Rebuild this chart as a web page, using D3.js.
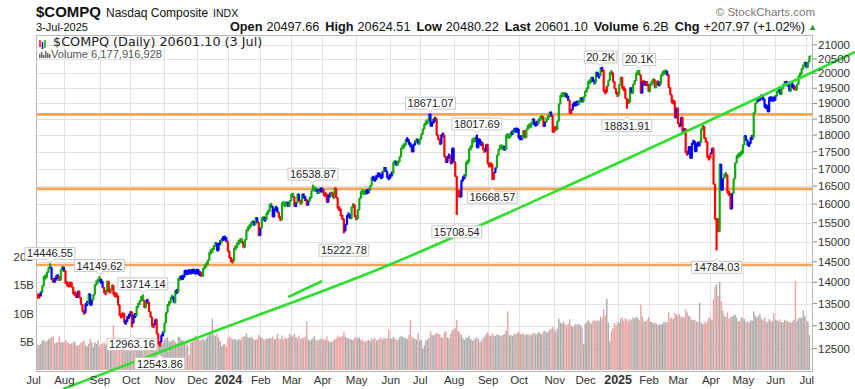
<!DOCTYPE html>
<html><head><meta charset="utf-8">
<script src="https://cdn.jsdelivr.net/npm/d3@7"></script>
<style>body{margin:0;background:#fff}svg{display:block}</style>
</head><body><svg id="c" width="855" height="389"></svg>
<script>
// ---------- DATA ----------
const monthLabels = ["Jul","Aug","Sep","Oct","Nov","Dec","2024","Feb","Mar","Apr","May","Jun","Jul","Aug","Sep","Oct","Nov","Dec","2025","Feb","Mar","Apr","May","Jun","Jul"];
const closeByMonth = [
[13817,13792,13679,13661,13686,13761,13919,14138,14114,14244,14354,14359,14063,14033,14059,14145,14127,14051,14317,14346],
[14283,13974,13960,13909,13994,13885,13723,13737,13645,13788,13632,13475,13317,13291,13498,13505,13722,13464,13590,13705,13943,14020,14035],
[14031,14021,13873,13749,13762,14021,13774,13814,13926,13708,13711,13679,13469,13224,13212,13271,13063,13093,13201,13219],
[13308,13059,13236,13220,13431,13485,13563,13660,13575,13407,13568,13534,13315,13187,12984,13019,13140,12821,12596,12643,12789,12851],
[13061,13294,13478,13519,13640,13650,13522,13798,13768,14094,14104,14114,14125,14284,14200,14266,14251,14241,14282,14258,14226],
[14306,14185,14230,14147,14340,14404,14432,14534,14734,14762,14814,14905,14964,14778,14964,14993,15075,15100,15096,15011],
[14765,14592,14510,14524,14843,14858,14970,15004,15055,15000,14856,15056,15311,15360,15426,15482,15511,15455,15628,15510,15164],
[15361,15629,15598,15582,15757,15794,15990,15942,15656,15859,15906,15776,15631,15581,16041,15996,15976,16035,15948,16092],
[16275,16208,15940,16032,16273,16085,16019,16266,16178,16129,15973,16103,16167,16369,16402,16429,16385,16316,16400,16379],
[16397,16240,16277,16050,16249,16253,16307,16170,16443,16175,15885,15865,15684,15601,15282,15451,15697,15713,15612,15928,15983,15658],
[15605,15841,16156,16349,16332,16302,16346,16341,16389,16512,16743,16698,16686,16795,16833,16802,16737,16921,17019,16921,16737,16735],
[16829,16857,17187,17173,17133,17193,17343,17608,17667,17689,17862,17862,17721,17689,17497,17718,17805,17859,17733],
[17879,18029,18188,18353,18403,18429,18647,18283,18398,18473,18509,17997,17871,17727,18008,17997,17342,17182,17358,17370,17147,17599],
[17194,16776,16200,16366,16196,16660,16745,16781,17188,17192,17594,17632,17877,17817,17919,17619,17878,17725,17754,17556,17516,17714],
[17136,17084,17128,16691,16885,17026,17396,17570,17684,17592,17628,17573,18014,17948,17974,18074,18082,18190,18119,18189],
[17910,17925,17918,18138,17923,18183,18292,18282,18343,18503,18316,18367,18374,18490,18540,18573,18277,18415,18519,18567,18712,18607,18095],
[18240,18180,18439,18983,19269,19287,19298,19282,19231,19108,18680,18792,18988,18966,19016,19004,19055,19175,19060,19218],
[19404,19481,19735,19701,19860,19737,19687,20034,19902,19926,20173,20109,19393,19372,19573,19765,20031,20020,19722,19487,19311],
[19280,19621,19865,19490,19479,19162,19088,19044,19511,19338,19630,19757,20009,20054,19954,19342,19734,19633,19681,19627],
[19392,19654,19692,19791,19523,19714,19643,19650,19945,20027,20041,20056,19962,19524,19287,19026,19075,18544,18847],
[18350,18285,18553,18070,18196,17468,17436,17648,17303,17754,17809,17504,17751,17692,17784,18189,18272,17899,17804,17323,17299],
[17449,17601,16551,15588,15603,15268,17125,16387,16724,16832,16823,16307,16287,15870,16300,16708,17166,17383,17366,17461,17446],
[17710,17978,17844,17690,17738,17928,17929,18708,19011,19147,19112,19211,19215,19143,18873,18925,18737,19199,19101,19175,19114],
[19243,19399,19460,19298,19530,19591,19715,19615,19662,19407,19701,19522,19546,19447,19631,19913,19973,20168,20273,20370],
[20203,20394,20601]
];
// volume in billions of shares
const volumeByMonth = [
[2.6,4.3,4.9,4.5,4.4,4.6,5.2,5.3,5.0,5.1,5.4,5.6,5.8,6.0,4.7,4.8,5.0,5.9,4.9,5.0],
[4.9,5.3,5.0,4.8,4.6,4.7,4.9,5.0,4.4,4.3,4.5,4.8,5.0,5.2,4.3,4.2,4.6,5.5,4.9,4.1,4.9,4.6,5.2],
[4.3,4.6,4.7,4.9,4.5,4.8,4.7,4.6,5.3,7.9,4.8,4.6,5.1,5.4,5.0,4.4,5.1,5.0,5.2,5.4],
[4.8,5.1,4.9,4.7,4.8,4.4,4.7,4.9,5.0,4.8,4.6,4.9,5.2,5.5,5.6,5.1,4.9,5.4,5.9,5.1,4.9,4.8],
[5.2,5.6,5.8,5.1,5.0,5.3,5.4,5.0,4.7,5.9,5.8,5.3,5.2,4.9,4.8,4.3,2.6,4.9,5.0,5.3,6.1],
[5.4,5.6,5.2,5.3,5.5,5.2,5.6,5.9,6.6,6.8,9.1,6.2,6.0,6.4,5.7,5.1,4.1,4.5,4.6,4.2],
[5.6,5.9,5.7,5.4,5.5,5.4,5.2,5.5,5.3,5.8,5.9,6.0,6.5,5.8,5.7,5.9,5.6,5.4,5.3,5.5,6.2],
[5.9,5.7,5.4,5.3,5.6,5.5,5.7,5.6,5.9,5.4,5.5,6.4,5.6,5.5,6.1,5.4,5.8,5.5,5.7,6.4],
[5.9,6.1,6.4,5.8,5.7,6.1,5.5,5.6,5.8,5.9,8.6,5.4,5.2,5.4,5.6,6.0,5.3,5.2,5.4,5.6],
[5.4,5.5,5.3,5.9,5.2,4.9,5.0,5.2,5.4,5.6,6.1,5.8,5.9,6.0,6.8,5.9,5.7,5.5,5.6,5.4,5.3,5.7],
[5.9,5.6,5.8,5.3,5.4,5.1,5.0,5.2,5.3,5.1,5.6,5.4,5.7,5.2,5.3,5.6,5.8,5.4,5.7,5.5,5.6,7.1],
[5.6,5.5,5.9,5.6,5.4,5.3,5.8,6.0,5.9,5.7,5.6,5.5,6.2,8.8,5.9,5.7,5.5,5.4,6.6],
[5.2,5.4,3.8,4.4,5.3,5.4,5.6,6.8,6.2,6.1,6.3,6.6,6.4,6.3,5.8,5.7,6.7,6.9,5.8,5.6,6.4,7.0],
[7.2,7.4,8.9,6.9,6.6,6.2,5.6,5.3,5.8,5.7,6.1,5.5,5.2,5.4,5.6,5.8,5.5,4.9,5.2,5.6,5.9,6.3],
[6.7,6.2,6.0,6.5,6.1,6.0,6.3,6.2,6.0,6.1,6.2,6.4,6.9,10.4,6.1,6.2,6.0,6.4,6.3,6.5],
[6.8,6.4,6.3,6.5,6.1,6.4,6.2,6.3,6.1,6.4,6.6,6.3,6.4,6.7,6.5,6.3,6.8,6.9,6.6,6.7,7.1,7.3,7.6],
[7.2,6.8,7.3,9.1,8.4,8.2,8.6,8.1,7.9,8.2,9.0,7.8,7.6,7.9,8.1,8.0,8.2,7.9,7.5,4.6],
[8.1,8.4,8.8,8.5,8.2,8.7,8.9,8.6,8.8,8.7,9.4,9.1,10.8,9.6,12.6,8.4,5.1,6.9,7.4,8.3,7.9],
[8.6,8.4,9.1,9.3,8.7,9.2,8.9,8.6,9.0,8.8,9.3,9.1,9.4,9.2,8.9,11.6,9.5,8.7,8.6,8.9],
[9.4,8.6,8.5,8.3,8.4,8.2,7.9,8.1,8.0,8.2,8.6,8.4,8.5,10.2,9.1,9.3,9.0,10.1,9.8],
[9.6,9.9,9.4,9.5,9.3,10.8,10.2,9.6,9.4,8.9,8.8,8.9,8.6,8.5,11.9,8.4,8.1,8.6,8.2,8.7,9.3],
[9.1,8.9,12.5,14.8,15.2,13.1,15.6,12.2,10.5,9.6,9.4,10.2,9.1,9.3,9.5,9.6,9.8,9.2,8.6,8.7,9.4],
[9.2,9.0,8.5,8.6,8.4,8.8,8.7,10.4,9.6,9.3,9.5,9.9,9.1,8.8,9.3,8.6,8.4,9.0,8.7,8.6,10.1],
[8.9,8.8,8.6,9.0,8.5,8.4,8.9,8.7,8.6,8.5,8.4,8.6,8.9,15.8,8.7,9.1,9.3,9.2,10.6,9.5],
[8.9,8.6,6.2]
];
const priceTicks = [12500,13000,13500,14000,14500,15000,15500,16000,16500,17000,17500,18000,18500,19000,19500,20000,20500,21000];
const volumeTicks = [5,10,15,20];
const volumeTickLabels = ["5B","10B","15B","20B"];
// annotations: [monthIndex, tradingDayInMonth, value, label, side]
const annotations = [
[0,11,14446.55,"14446.55","high"],
[2,0,14149.62,"14149.62","high"],
[3,8,13714.14,"13714.14","high"],
[3,1,12963.16,"12963.16","low"],
[3,19,12543.86,"12543.86","low"],
[8,14,16538.87,"16538.87","high"],
[9,14,15222.78,"15222.78","low"],
[12,7,18671.07,"18671.07","high"],
[13,2,15708.54,"15708.54","low"],
[13,15,18017.69,"18017.69","high"],
[14,3,16668.57,"16668.57","low"],
[17,10,20204.58,"20.2K","high"],
[18,6,18831.91,"18831.91","low"],
[18,14,20118.61,"20.1K","high"],
[21,4,14784.03,"14784.03","low"]
];
const horizontalLevels = [18650,16420,14420];
// trend lines as [index, price] anchor points
const mainTrend = [[19.4,11667],[108,12757],[222.2,14297],[356.9,16729],[531.5,20746]];
const shortTrend = [[165,13652],[187,14031]];
const headerStats = [["Open","20497.66"],["High","20624.51"],["Low","20480.22"],["Last","20601.10"],["Volume","6.2B"],["Chg","+207.97 (+1.02%)"]];

// ---------- CHART ----------
const svg = d3.select("#c");
const P = {l:36,t:35,r:813,b:372};
const closes = closeByMonth.flat();
const volumes = volumeByMonth.flat();
const monthStart = []; {let a=0; closeByMonth.forEach(m=>{monthStart.push(a); a+=m.length;});}
const n = closes.length;
const x = d3.scaleLinear().domain([0,n-1]).range([33, 33+(n-1)*1.5466]);
const y = d3.scaleLog().domain([12011,21320]).range([372,36]);
const yv = d3.scaleLinear().domain([0,20]).range([370,257]);
const SANS = "'Liberation Sans', Arial, sans-serif";

svg.append("defs").append("clipPath").attr("id","pc").append("rect")
  .attr("x",P.l).attr("y",P.t).attr("width",P.r-P.l).attr("height",P.b-P.t);

svg.append("rect").attr("x",P.l).attr("y",P.t).attr("width",P.r-P.l).attr("height",P.b-P.t).attr("fill","#fff");
const grid = svg.append("g").attr("stroke","#e2e2e2").attr("stroke-width",1);
priceTicks.forEach(t=>{const yy=Math.round(y(t))+0.5; grid.append("line").attr("x1",P.l).attr("x2",P.r).attr("y1",yy).attr("y2",yy);});
monthStart.forEach((s,k)=>{const xx=Math.round(x(s))+0.5; if(xx>P.l&&xx<P.r) grid.append("line").attr("x1",xx).attr("x2",xx).attr("y1",P.t).attr("y2",P.b);});

const clipG = svg.append("g").attr("clip-path","url(#pc)");
clipG.append("g").selectAll("rect").data(volumes).join("rect")
  .attr("x",(d,i)=>x(i)-0.7).attr("width",1.4)
  .attr("y",d=>yv(d)).attr("height",d=>yv(0)-yv(d))
  .attr("fill",(d,i)=> (i>0 && closes[i]<closes[i-1]) ? "#eba3a3" : "#acacac");

horizontalLevels.forEach(v=>{
  clipG.append("line").attr("x1",P.l).attr("x2",P.r).attr("y1",y(v)).attr("y2",y(v))
   .attr("stroke","#f2a458").attr("stroke-width",2.6);
});

function ema(a,p){const k=2/(p+1);let e=a[0];return a.map((v,i)=>(e=i?v*k+e*(1-k):v));}
const e13=ema(closes,13), e12=ema(closes,12), e26=ema(closes,26);
const macd=e12.map((v,i)=>v-e26[i]); const sig=ema(macd,9); const hist=macd.map((v,i)=>v-sig[i]);
const colr = closes.map((c,i)=>{
  if(i===0) return "#0000ff";
  const up=e13[i]>e13[i-1]&&hist[i]>hist[i-1], dn=e13[i]<e13[i-1]&&hist[i]<hist[i-1];
  return up?"#11aa11":dn?"#ff0000":"#0000ff";
});
const ext = {};
annotations.forEach(a=>{ext[monthStart[a[0]]+a[1]]=a;});
const bars = closes.map((c,i)=>{
  const o = i?closes[i-1]:c;
  let hi=Math.max(o,c), lo=Math.min(o,c);
  const a=ext[i]; if(a){ if(a[4]==="high") hi=Math.max(hi,a[2]); else lo=Math.min(lo,a[2]); }
  let y1=y(hi), y2=y(lo); if(y2-y1<5){const m=(y1+y2)/2; y1=m-2.5; y2=m+2.5;}
  return {i,o,c,y1,y2};
});
const bg = clipG.append("g");
bars.forEach(b=>{
  const xx=x(b.i), col=colr[b.i];
  bg.append("line").attr("x1",xx).attr("x2",xx).attr("y1",b.y1).attr("y2",b.y2).attr("stroke",col).attr("stroke-width",2.2);
  bg.append("line").attr("x1",xx-2).attr("x2",xx).attr("y1",y(b.o)).attr("y2",y(b.o)).attr("stroke",col).attr("stroke-width",1.3);
  bg.append("line").attr("x1",xx).attr("x2",xx+2).attr("y1",y(b.c)).attr("y2",y(b.c)).attr("stroke",col).attr("stroke-width",1.3);
});

svg.append("rect").attr("x",P.l+0.5).attr("y",P.t+0.5).attr("width",P.r-P.l-1).attr("height",P.b-P.t-1)
  .attr("fill","none").attr("stroke","#b8b8b8");

// trend lines
const tl = d3.line().x(d=>x(d[0])).y(d=>y(d[1])).curve(d3.curveMonotoneX);
svg.append("path").attr("d",tl(mainTrend)).attr("fill","none").attr("stroke","#2ee02e").attr("stroke-width",2.6);
svg.append("path").attr("d",tl(shortTrend)).attr("fill","none").attr("stroke","#2ee02e").attr("stroke-width",2.6);

// annotations
const ag = svg.append("g").attr("font-family",SANS).attr("font-size",11);
annotations.forEach(a=>{
  const i=monthStart[a[0]]+a[1], xx=x(i), yy=y(a[2]);
  const t = ag.append("text").text(a[3]).attr("text-anchor","middle").attr("fill","#222");
  const w = t.node().getComputedTextLength()+4, h=12;
  const top = a[4]==="high" ? yy-4.5-h : yy+11;
  t.attr("x",xx).attr("y",top+10);
  const L=xx-w/2, R=xx+w/2;
  const d = a[4]==="high"
    ? `M${L},${top}H${R}V${top+h}H${xx+3}L${xx},${top+h+3}L${xx-3},${top+h}H${L}Z`
    : `M${L},${top}H${xx-3}L${xx},${top-3}L${xx+3},${top}H${R}V${top+h}H${L}Z`;
  ag.insert("path","text").attr("d",d).attr("fill","#fff").attr("stroke","#c8c8c8").attr("stroke-width",1);
});

// right price axis
const ra = svg.append("g").attr("font-family",SANS).attr("font-size",11.5).attr("fill","#333");
priceTicks.forEach(t=>{
  const yy=y(t);
  ra.append("line").attr("x1",P.r).attr("x2",P.r+4).attr("y1",yy).attr("y2",yy).attr("stroke","#888");
  ra.append("text").attr("x",P.r+5).attr("y",yy+4).text(t);
});
// left volume axis
const la = svg.append("g").attr("font-family",SANS).attr("font-size",11.5).attr("fill","#333");
volumeTicks.forEach((t,k)=>{
  la.append("text").attr("x",34).attr("y",yv(t)+4).attr("text-anchor","end").text(volumeTickLabels[k]);
});
ag.raise();
// bottom month axis
const ba = svg.append("g").attr("font-family",SANS).attr("fill","#333");
monthStart.forEach((s,k)=>{
  const lab=monthLabels[k], bold=/^\d{4}$/.test(lab);
  ba.append("text").attr("x",x(s)+0.5).attr("y",384).attr("text-anchor","middle")
    .attr("font-size",bold?12.5:11.5).attr("font-weight",bold?"bold":"normal").text(lab);
});

// header
const hd = svg.append("g").attr("font-family",SANS).attr("fill","#111");
const t1 = hd.append("text").attr("x",36).attr("y",17);
t1.append("tspan").attr("font-size",15).attr("font-weight","bold").text("$COMPQ");
t1.append("tspan").attr("font-size",12).attr("dx",5).text("Nasdaq Composite");
t1.append("tspan").attr("font-size",10.5).attr("dx",5).text("INDX");
hd.append("text").attr("x",36).attr("y",30.5).attr("font-size",11).text("3-Jul-2025");
const st = hd.append("text").attr("x",805).attr("y",30.5).attr("text-anchor","end").attr("font-size",12.7);
headerStats.forEach((s,k)=>{
  st.append("tspan").attr("font-weight","bold").attr("dx",k?6:0).text(s[0]);
  st.append("tspan").attr("dx",4).text(s[1]);
});
hd.append("text").attr("x",808).attr("y",30).attr("font-size",9).attr("fill","#1a9a1a").text("▲");
hd.append("text").attr("x",815).attr("y",16).attr("text-anchor","end").attr("font-size",11.5).attr("fill","#777").text("© StockCharts.com");

// legend
const lg = svg.append("g");
[[40,"#ff0000",40,47],[42.5,"#0000ff",42,49],[45,"#11aa11",40,48]].forEach(b=>{
  lg.append("line").attr("x1",b[0]).attr("x2",b[0]).attr("y1",b[2]).attr("y2",b[3]).attr("stroke",b[1]).attr("stroke-width",1.5);
});
[[39,54],[41,52],[43,55],[45,51],[47,53],[49,54]].forEach(b=>{
  lg.append("rect").attr("x",b[0]).attr("y",b[1]).attr("width",1.5).attr("height",58-b[1]).attr("fill","#666");
});
lg.append("text").attr("x",53).attr("y",46).attr("font-family","'DejaVu Sans', Verdana, sans-serif").attr("font-size",12.8).attr("fill","#222")
  .text("$COMPQ (Daily) 20601.10 (3 Jul)");
lg.append("text").attr("x",51).attr("y",57.5).attr("font-family",SANS).attr("font-size",11.1).attr("fill","#555")
  .text("Volume 6,177,916,928");
</script></body></html>
